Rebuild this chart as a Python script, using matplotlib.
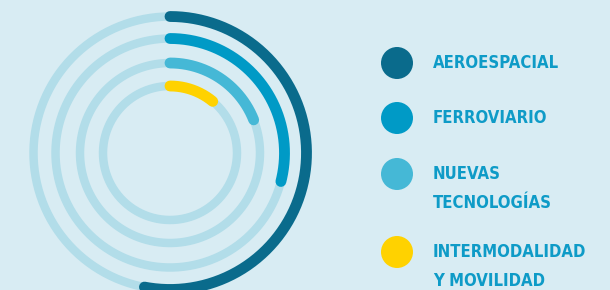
import numpy as np
import matplotlib
matplotlib.use("Agg")
import matplotlib.pyplot as plt

categories = ["AEROESPACIAL", "FERROVIARIO", "NUEVAS\nTECNOLOGÍAS", "INTERMODALIDAD\nY MOVILIDAD"]
values = [53, 29, 19, 11]  # percent of full circle
colors = ["#0a6b8c", "#009ac6", "#45b8d6", "#ffd200"]
radii = [136.5, 114.5, 90, 67]

bg = "#d8ecf3"
track = "#b2dde9"
text_col = "#0e9bc7"

W, H = 610, 290
fig = plt.figure(figsize=(W / 100, H / 100), dpi=100, facecolor=bg)

cx, cy, R = 170, 153, 150
pax = fig.add_axes([(cx - R) / W, (H - cy - R) / H, 2 * R / W, 2 * R / H], projection="polar")
pax.set_facecolor("none")
pax.set_theta_zero_location("N")
pax.set_theta_direction(-1)
pax.set_rlim(0, R)
pax.axis("off")

theta_full = np.linspace(0, 2 * np.pi, 400)
for r, v, c in zip(radii, values, colors):
    pax.plot(theta_full, np.full_like(theta_full, r), color=track, lw=6.1, solid_capstyle="butt", zorder=1)
    th = np.linspace(0, 2 * np.pi * v / 100, 300)
    pax.plot(th, np.full_like(th, r), color=c, lw=7.8, solid_capstyle="round", zorder=2)

lax = fig.add_axes([0, 0, 1, 1])
lax.set_xlim(0, W)
lax.set_ylim(H, 0)
lax.axis("off")
lax.set_facecolor("none")
leg_y = [63, 118, 174, 252]
lax.scatter([397] * 4, leg_y, s=(32 * 0.72) ** 2, c=colors, edgecolors="none")
line_gap = 29
for t, y in zip(categories, leg_y):
    for i, line in enumerate(t.split("\n")):
        lax.text(433, y + i * line_gap, line, color=text_col, fontsize=12, fontweight="bold",
                 family="DejaVu Sans", fontstretch="condensed", va="center", ha="left")

fig.savefig("out.png", dpi=100, facecolor=bg)
